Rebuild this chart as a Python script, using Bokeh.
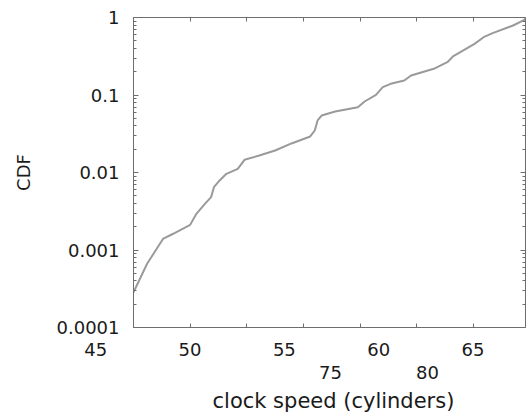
from bokeh.plotting import figure
from bokeh.models import LinearAxis, LogAxis, FixedTicker, Range1d, Title, CustomLabelingPolicy
from bokeh.layouts import column
from bokeh.embed import file_html
from bokeh.resources import INLINE

# ---- data ----
clock_speed = [45.0, 46.2, 47.6, 48.5, 50.0, 50.55, 51.3, 51.85, 52.1, 52.6, 53.2, 54.2,
               54.8, 56.1, 57.5, 59.0, 60.6, 61.0, 61.25, 61.6, 62.8, 64.8, 65.4, 66.4,
               67.0, 67.7, 68.9, 69.5, 71.5, 72.7, 73.2, 75.1, 75.9, 76.7, 78.5, 79.5, 79.6]
cdf = [2.85e-4, 6.64e-4, 1.39e-3, 1.62e-3, 2.11e-3, 2.93e-3, 3.94e-3, 4.81e-3, 6.46e-3,
       7.89e-3, 9.62e-3, 0.01114, 0.01459, 0.01656, 0.01923, 0.02388, 0.02917, 0.03483,
       0.04688, 0.05433, 0.06124, 0.06966, 0.08241, 0.1005, 0.1262, 0.1393, 0.1538,
       0.1786, 0.2178, 0.2649, 0.3141, 0.4571, 0.5572, 0.6281, 0.7889, 0.9333, 1.0]

x_tick_values = [45, 50, 55, 60, 65, 70, 75, 80]
y_tick_values = [0.0001, 0.001, 0.01, 0.1, 1]
y_tick_labels = ["0.0001", "0.001", "0.01", "0.1", "1"]
x_labels_row1 = [45, 50, 55, 60, 65]
x_labels_row2 = [75, 80]
x_title = "clock speed (cylinders)"
y_title = "CDF"

FONT = "DejaVu Sans"
AX = "#6e6e6e"
TXT = "#1a1a1a"

y_minor = [m * 10.0 ** e for e in range(-4, 0) for m in range(2, 10)]


def no_labels():
    return CustomLabelingPolicy(code="""
        for (let i = 0; i < indices.size; i++) { indices.unset(i) }
        return indices
    """)


p1 = figure(width=530, height=337, x_range=Range1d(45, 79.6), y_range=Range1d(1e-4, 1),
            y_axis_type="log", output_backend="svg", toolbar_location=None,
            min_border_left=133, min_border_right=1, min_border_top=17, min_border_bottom=10)
p1.grid.visible = False
p1.outline_line_color = AX
p1.background_fill_color = "white"
p1.border_fill_color = "white"

p1.line(clock_speed, cdf, line_color="#9a9a9a", line_width=2)

overrides = {v: s for v, s in zip(y_tick_values, y_tick_labels)}

xa = p1.xaxis[0]
xa.ticker = FixedTicker(ticks=x_tick_values)
xa.major_label_policy = no_labels()
xa.major_label_text_font_size = "1px"
xa.major_label_standoff = 0
xa.major_tick_in = 4
xa.major_tick_out = 0
xa.minor_tick_out = 0
xa.axis_line_color = AX
xa.major_tick_line_color = AX

ya = p1.yaxis[0]
ya.ticker = FixedTicker(ticks=y_tick_values, minor_ticks=y_minor)
ya.major_label_overrides = overrides
ya.major_label_text_font = FONT
ya.major_label_text_font_size = "18px"
ya.major_label_text_color = TXT
ya.major_label_standoff = 14
ya.major_tick_in = 5
ya.major_tick_out = 0
ya.minor_tick_in = 3
ya.minor_tick_out = 0
ya.axis_line_color = AX
ya.major_tick_line_color = AX
ya.minor_tick_line_color = AX
ya.axis_label = y_title
ya.axis_label_text_font = FONT
ya.axis_label_text_font_size = "18px"
ya.axis_label_text_font_style = "normal"
ya.axis_label_text_color = TXT
ya.axis_label_standoff = 20

top = LinearAxis(ticker=FixedTicker(ticks=x_tick_values), major_label_policy=no_labels(),
                 major_label_text_font_size="1px", major_label_standoff=0,
                 major_tick_in=4, major_tick_out=0, minor_tick_out=0,
                 axis_line_color=None, major_tick_line_color=AX)
p1.add_layout(top, "above")
right = LogAxis(ticker=FixedTicker(ticks=y_tick_values, minor_ticks=y_minor),
                major_label_policy=no_labels(), major_label_text_font_size="1px",
                major_label_standoff=0, major_tick_in=5, major_tick_out=0,
                minor_tick_in=3, minor_tick_out=0, axis_line_color=None,
                major_tick_line_color=AX, minor_tick_line_color=AX)
p1.add_layout(right, "right")

# ---- label strip below (its frame spans the full page width) ----
p2 = figure(width=530, height=80, x_range=Range1d(39.95, 68.05), y_range=Range1d(0, 1),
            x_axis_location=None, y_axis_location=None, output_backend="svg",
            toolbar_location=None, min_border_left=0, min_border_right=0,
            min_border_top=0, min_border_bottom=0)
p2.grid.visible = False
p2.outline_line_color = None
p2.background_fill_color = "white"
p2.border_fill_color = "white"
p2.extra_x_ranges = {"row2": Range1d(57.99, 85.31)}

for fig in (p1, p2):
    if "frame_align" in fig.properties():
        fig.frame_align = False


def label_axis(**kw):
    return LinearAxis(axis_line_color=None, major_tick_line_color=None, minor_tick_line_color=None,
                      major_tick_in=0, major_tick_out=0, minor_tick_in=0, minor_tick_out=0,
                      major_label_text_font=FONT, major_label_text_font_size="18px",
                      major_label_text_color=TXT, **kw)


ax1 = label_axis(ticker=FixedTicker(ticks=x_labels_row1), major_label_standoff=2)
ax2 = label_axis(ticker=FixedTicker(ticks=x_labels_row2), x_range_name="row2",
                 major_label_standoff=7)
p2.add_layout(ax1, "below")
p2.add_layout(ax2, "below")
p2.add_layout(Title(text=x_title, align="left", offset=212, text_font=FONT,
                    text_font_size="21px", text_font_style="normal", text_color=TXT,
                    standoff=10), "below")

layout = column(p1, p2, spacing=0)
open("out.html", "w").write(file_html(layout, INLINE))
